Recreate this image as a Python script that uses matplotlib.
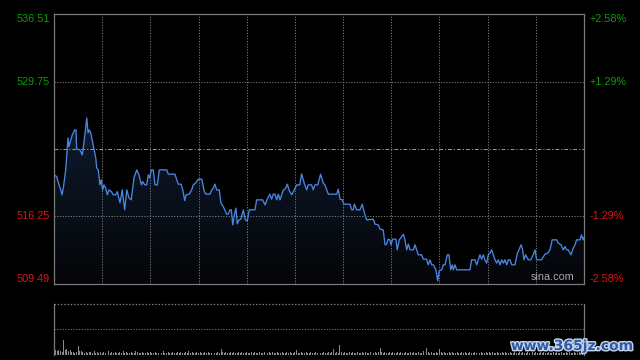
import numpy as np
import matplotlib
matplotlib.use("Agg")
import matplotlib.pyplot as plt
import matplotlib.patheffects as pe
from matplotlib.patches import PathPatch

# ---------------- data ----------------
prev_close = 523.00
y_low, y_high = 509.49, 536.51
left_labels = ["536.51", "529.75", "516.25", "509.49"]
left_levels = [536.51, 529.75, 516.25, 509.49]
right_labels = ["+2.58%", "+1.29%", "-1.29%", "-2.58%"]

t_min = [0, 1.7, 2.5, 4.2, 5.0, 5.8, 7.3, 8.7, 9.3, 10.4, 11.4, 12.9, 13.7, 14.1, 16.2, 17.6,
         19.1, 20.4, 21.2, 22.0, 22.9, 24.1, 26.0, 26.6, 27.6, 28.6, 29.4, 30.3, 31.1, 32.2,
         33.2, 34.2, 35.7, 36.9, 38.4, 39.4, 41.1, 42.5, 44.0, 45.3, 46.7, 48.1, 49.8, 51.5,
         52.9, 54.4, 55.2, 56.5, 57.7, 58.7, 59.6, 60.6, 61.8, 62.9, 64.3, 65.6, 70.2, 71.2,
         75.3, 77.4, 79.1, 80.1, 81.4, 82.2, 84.2, 85.7, 86.7, 88.4, 89.8, 92.0, 93.6, 94.6,
         97.1, 98.2, 99.2, 100.2, 101.3, 102.9, 104.0, 105.4, 107.5, 108.5, 109.6, 110.4,
         111.3, 112.1, 113.3, 114.1, 115.2, 116.4, 117.9, 119.1, 120.3, 121.6, 125.1, 126.2,
         129.9, 131.4, 132.8, 134.3, 135.5, 136.5, 137.6, 138.7, 139.7, 140.7, 142.8, 143.8,
         145.3, 146.3, 148.0, 149.6, 151.1, 153.0, 154.2, 155.8, 157.3, 158.3, 160.4, 161.4,
         162.5, 164.2, 166.0, 167.7, 168.7, 170.8, 176.0, 177.0, 178.1, 179.5, 180.6, 184.3,
         185.4, 186.3, 187.0, 188.5, 190.5, 191.9, 193.6, 194.7, 198.8, 199.9, 201.9, 203.0,
         205.0, 206.1, 207.1, 208.1, 209.2, 209.8, 210.9, 212.9, 213.7, 215.0, 216.5, 217.5,
         218.5, 219.6, 220.6, 221.7, 223.7, 224.8, 226.8, 228.9, 229.9, 232.0, 233.0, 234.1,
         235.2, 236.2, 237.8, 238.9, 239.9, 241.4, 242.4, 243.4, 244.9, 245.9, 247.0, 248.0,
         248.6, 249.7, 250.7, 259.0, 260.0, 262.1, 263.2, 264.2, 265.2, 266.3, 267.3, 268.3,
         269.4, 270.4, 271.5, 272.5, 273.5, 274.6, 275.6, 276.6, 277.7, 278.7, 279.8, 280.8,
         281.9, 282.9, 283.9, 285.0, 287.0, 288.5, 289.5, 290.8, 291.8, 292.6, 293.7, 295.3,
         296.8, 298.4, 299.5, 300.5, 303.6, 305.7, 307.4, 308.8, 310.2, 313.0, 314.0, 315.7,
         317.1, 318.2, 319.2, 320.2, 321.9, 323.3, 324.4, 325.4, 327.5, 328.5, 329.5, 330.0]

price = [520.41, 520.24, 519.74, 518.91, 518.41, 519.11, 520.91, 524.11, 523.24, 523.91, 524.41,
         524.91, 524.91, 523.01, 522.91, 522.41, 524.24, 526.11, 524.61, 524.91, 524.61, 523.61,
         522.11, 521.11, 520.91, 519.41, 519.91, 518.91, 519.41, 519.11, 518.41, 518.91, 518.74,
         518.41, 518.41, 518.74, 517.61, 518.91, 516.91, 518.91, 518.11, 517.91, 520.11, 520.91,
         520.41, 519.41, 519.74, 519.41, 519.41, 520.41, 520.11, 520.91, 520.91, 519.41, 519.41,
         520.91, 520.91, 520.48, 520.48, 519.48, 519.48, 518.98, 517.84, 518.41, 518.48, 518.91,
         519.41, 519.64, 519.98, 519.98, 518.74, 518.48, 518.48, 518.91, 519.08, 519.48, 518.91,
         518.91, 517.58, 517.24, 516.48, 516.48, 516.91, 516.91, 515.41, 516.24, 517.08, 515.51,
         515.91, 515.98, 516.91, 515.91, 515.81, 516.91, 516.91, 517.91, 517.91, 517.41, 517.98,
         518.48, 517.98, 518.48, 518.48, 517.91, 518.48, 517.91, 518.91, 518.98, 519.48, 518.91,
         518.41, 518.91, 519.41, 519.41, 520.51, 519.58, 518.91, 519.41, 519.41, 518.91, 519.41,
         519.41, 520.48, 519.58, 519.41, 518.48, 518.48, 518.98, 517.98, 517.91, 517.48, 517.48,
         516.91, 516.91, 517.48, 516.91, 516.91, 517.48, 516.41, 515.91, 515.98, 515.48, 515.41,
         514.98, 514.91, 513.41, 513.48, 513.98, 513.91, 513.41, 513.98, 513.98, 512.91, 513.91,
         514.24, 514.48, 513.91, 512.91, 513.48, 512.91, 512.91, 513.41, 512.41, 512.41, 511.98,
         511.98, 511.41, 511.91, 511.41, 511.41, 510.91, 509.81, 510.81, 510.91, 511.41, 511.41,
         512.41, 512.41, 510.91, 511.41, 510.91, 511.41, 510.91, 510.91, 511.91, 511.91, 511.41,
         511.91, 512.41, 511.98, 512.41, 511.91, 511.58, 512.41, 512.58, 512.91, 512.41, 511.91,
         511.58, 511.91, 511.41, 511.91, 511.58, 511.91, 511.41, 511.91, 511.91, 511.41, 511.41,
         512.58, 512.91, 513.41, 512.91, 511.91, 512.41, 511.91, 511.91, 512.41, 512.91, 511.91,
         511.91, 512.48, 512.58, 512.91, 513.91, 513.91, 513.58, 513.41, 512.91, 513.24, 512.91,
         512.91, 512.41, 513.08, 513.41, 513.91, 513.91, 514.41, 513.91, 514.11]

# per-minute volume (relative units)
volume = [19, 5, 4, 5, 4, 3, 15, 5, 6, 4, 5, 3, 3, 2, 3, 9, 4, 4, 3, 2, 3, 2, 3, 3, 2, 4, 2, 3, 2, 3,
          2, 3, 2, 2, 4, 2, 3, 2, 3, 2, 2, 3, 2, 4, 2, 3, 2, 2, 3, 2, 2, 4, 3, 2, 2, 3, 2, 2, 3, 2,
          3, 2, 2, 3, 2, 2, 3, 2, 4, 2, 2, 3, 2, 2, 3, 2, 2, 3, 2, 3, 2, 2, 3, 2, 4, 2, 3, 2, 2, 3,
          2, 3, 2, 2, 3, 2, 3, 2, 2, 3, 2, 2, 3, 2, 6, 3, 2, 3, 2, 2, 3, 2, 3, 2, 2, 3, 2, 3, 2, 2,
          3, 2, 2, 3, 2, 3, 2, 2, 3, 2, 2, 3, 2, 2, 3, 2, 3, 2, 2, 3, 2, 2, 3, 2, 2, 3, 2, 3, 2, 2,
          3, 5, 2, 2, 3, 2, 2, 3, 2, 2, 3, 2, 2, 3, 2, 3, 2, 2, 3, 2, 2, 3, 2, 3, 6, 2, 3, 2, 10, 3,
          2, 3, 2, 2, 3, 2, 3, 2, 2, 3, 2, 2, 3, 2, 3, 2, 2, 3, 2, 2, 3, 2, 3, 7, 3, 2, 3, 2, 2, 3,
          2, 3, 2, 2, 3, 2, 3, 2, 2, 3, 2, 2, 3, 2, 3, 2, 2, 3, 2, 2, 4, 2, 7, 3, 2, 3, 2, 2, 3, 2,
          6, 3, 2, 3, 2, 2, 3, 2, 3, 2, 2, 3, 2, 2, 3, 2, 3, 2, 2, 3, 2, 2, 3, 2, 15, 2, 3, 2, 2, 3,
          2, 3, 2, 3, 2, 2, 3, 2, 2, 3, 2, 3, 2, 2, 3, 2, 2, 3, 2, 2, 3, 2, 3, 2, 2, 3, 2, 2, 3, 2,
          3, 2, 2, 3, 2, 3, 2, 2, 3, 2, 2, 3, 2, 3, 2, 2, 3, 2, 2, 3, 2, 3, 2, 2, 3, 2, 2, 3, 2, 3, 4]

# ---------------- style ----------------
FONT = "Liberation Sans"
GREEN = "#0a9e0a"
RED = "#d81818"
GRID = "#7c7c7c"
SPINE = "#7a7a7a"
LINE = "#4a86e0"

fig = plt.figure(figsize=(6.4, 3.6), dpi=100, facecolor="black")
W, H = 640, 360
ax = fig.add_axes([54 / W, 1 - 284 / H, 530 / W, 270 / H], facecolor="black")
axv = fig.add_axes([54 / W, 1 - 355 / H, 530 / W, 51 / H], facecolor="black")

t = np.array(t_min)
p = np.array(price)

ax.set_xlim(0, 330)
ax.set_ylim(y_low, y_high)

# gradient fill under the line
fill = ax.fill_between(t, p, y_low, facecolor="none", edgecolor="none")
grad = np.linspace(0, 1, 256).reshape(-1, 1)
top_c = np.array([15, 27, 46]) / 255.0
bot_c = np.array([4, 5, 8]) / 255.0
img = top_c[None, None, :] * (1 - grad[:, :, None]) + bot_c[None, None, :] * grad[:, :, None]
im = ax.imshow(img, extent=[0, 330, y_low, p.max()], aspect="auto", origin="upper", zorder=1)
path = fill.get_paths()[0]
patch = PathPatch(path, transform=ax.transData, facecolor="none", edgecolor="none")
ax.add_patch(patch)
im.set_clip_path(patch)
ax.set_xlim(0, 330)
ax.set_ylim(y_low, y_high)

# grid lines
for xv in range(30, 330, 30):
    ax.axvline(xv, color=GRID, lw=0.7, ls=(0, (1.2, 1.6)), zorder=2)
for yv in (529.75, 516.25):
    ax.axhline(yv, color=GRID, lw=0.7, ls=(0, (1.2, 1.6)), zorder=2)
ax.axhline(prev_close, color="#9a9a9a", lw=0.7, ls=(0, (4, 2, 1.2, 2)), zorder=2)

ax.plot(t, p, color=LINE, lw=0.95, zorder=3, solid_joinstyle="round")

ax.set_xticks([])
ax.set_yticks([])
for s in ax.spines.values():
    s.set_color(SPINE)
    s.set_linewidth(0.9)

# axis labels
ytr = ax.get_yaxis_transform()
fs = 7.8
for lab, lev, rl in zip(left_labels, left_levels, right_labels):
    col = GREEN if lev > prev_close else RED
    va = "center"
    if lev == y_high:
        va = "top"
    elif lev == y_low:
        va = "bottom"
    ax.text(-0.0075, lev, lab, transform=ytr, ha="right", va=va, color=col,
            fontsize=fs, family=FONT, clip_on=False)
    ax.text(1.011, lev, rl, transform=ytr, ha="left", va=va, color=col,
            fontsize=fs, family=FONT, clip_on=False)

ax.text(0.982, 0.008, "sina.com", transform=ax.transAxes, ha="right", va="bottom",
        color="#a8a8a8", fontsize=7.8, family=FONT, zorder=4)

# volume panel
vt = np.arange(len(volume))
axv.bar(vt, volume, width=0.6, color="#8a8a8a", linewidth=0, align="center")
axv.set_xlim(0, 330)
axv.set_ylim(0, 51)
axv.set_xticks([])
axv.set_yticks([])
axv.axhline(26, color=GRID, lw=0.7, ls=(0, (1.2, 1.6)))
axv.spines["top"].set_visible(False)
axv.axhline(51, color=GRID, lw=0.9, ls=(0, (1.2, 1.4)), clip_on=False)
axv.spines["bottom"].set_visible(False)
for k in ("left", "right"):
    axv.spines[k].set_color(SPINE)
    axv.spines[k].set_linewidth(0.9)

fig.text(633 / W, 1 - 346 / H, "www.365jz.com", ha="right", va="center",
         color="#2a5aa8", fontsize=10, family="DejaVu Sans", fontweight="bold",
         path_effects=[pe.withStroke(linewidth=2.0, foreground="#c8d4e8")])

fig.savefig("out.png", dpi=100, facecolor="black")
